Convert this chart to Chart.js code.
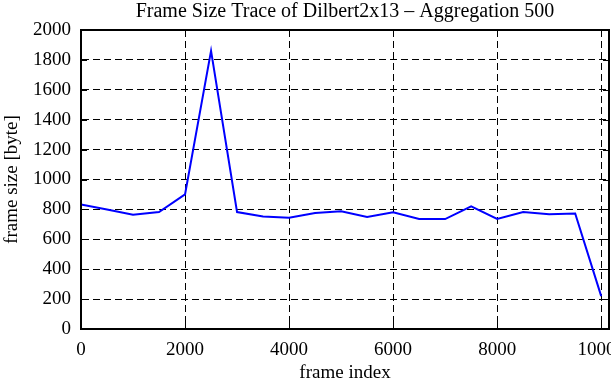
<!DOCTYPE html>
<html>
<head>
<meta charset="utf-8">
<script src="https://cdn.jsdelivr.net/npm/chart.js@4/dist/chart.umd.min.js"></script>
<style>
  html, body { margin: 0; padding: 0; background: #fff; overflow: hidden; }
  #wrap { position: absolute; left: 0; top: 0; width: 611px; height: 380px; overflow: hidden; }
</style>
</head>
<body>
<div id="wrap"><canvas id="chart" width="640" height="384"></canvas></div>
<script>
// frame index (aggregated every 500 frames)
const frameIndex = [0, 500, 1000, 1500, 2000, 2500, 3000, 3500, 4000, 4500, 5000,
                    5500, 6000, 6500, 7000, 7500, 8000, 8500, 9000, 9500, 10000];
// frame size in bytes
const frameSize = [833, 800, 765, 782, 900, 1860, 782, 753, 744, 776, 787,
                   749, 780, 736, 735, 820, 736, 782, 767, 773, 220];
const xTicks = [0, 2000, 4000, 6000, 8000, 10000];
const yTicks = [0, 200, 400, 600, 800, 1000, 1200, 1400, 1600, 1800, 2000];

const FONT = "'Liberation Serif', 'DejaVu Serif', serif";

// small solid tick marks on the inside of all four borders (gnuplot style)
const mirrorTicks = {
    id: 'mirrorTicks',
    afterDraw(chart) {
        const { ctx, chartArea: a, scales } = chart;
        const len = 6;
        ctx.save();
        ctx.strokeStyle = '#000';
        ctx.lineWidth = 1;
        ctx.beginPath();
        xTicks.forEach(v => {
            const px = Math.round(scales.x.getPixelForValue(v)) + 0.5;
            ctx.moveTo(px, a.bottom); ctx.lineTo(px, a.bottom - len);
            ctx.moveTo(px, a.top); ctx.lineTo(px, a.top + len);
        });
        yTicks.forEach(v => {
            const py = Math.round(scales.y.getPixelForValue(v)) + 0.5;
            ctx.moveTo(a.left, py); ctx.lineTo(a.left + len, py);
            ctx.moveTo(a.right, py); ctx.lineTo(a.right - len, py);
        });
        ctx.stroke();
        // frame
        ctx.lineWidth = 2;
        ctx.strokeRect(a.left, a.top, a.right - a.left, a.bottom - a.top);
        ctx.restore();
    }
};

new Chart(document.getElementById('chart'), {
    type: 'line',
    data: {
        datasets: [{
            data: frameIndex.map((x, i) => ({ x: x, y: frameSize[i] })),
            borderColor: '#0000ff',
            borderWidth: 2,
            pointRadius: 0,
            tension: 0,
            fill: false
        }]
    },
    options: {
        responsive: false,
        animation: false,
        layout: { padding: { left: 0, right: 31, top: 0, bottom: 0 } },
        plugins: {
            legend: { display: false },
            tooltip: { enabled: false },
            title: {
                display: true,
                fullSize: false, // centre over the plot area
                text: 'Frame Size Trace of Dilbert2x13 \u2013 Aggregation 500',
                color: '#000',
                font: { family: FONT, size: 20, weight: 'normal' },
                padding: { top: 0, bottom: 6 }
            }
        },
        scales: {
            x: {
                type: 'linear',
                min: 0,
                max: 10150,
                afterBuildTicks: s => { s.ticks = xTicks.map(v => ({ value: v })); },
                afterFit: s => { s.height = 55; },
                ticks: {
                    color: '#000',
                    font: { family: FONT, size: 19 },
                    maxRotation: 0,
                    padding: 10,
                    callback: v => String(v)
                },
                grid: {
                    color: '#000',
                    lineWidth: 1,
                    drawTicks: false
                },
                border: { display: true, color: '#000', width: 2, dash: [7, 4] },
                title: {
                    display: true,
                    text: 'frame index',
                    color: '#000',
                    font: { family: FONT, size: 19 },
                    padding: { top: 0, bottom: 0 }
                }
            },
            y: {
                min: 0,
                max: 2000,
                afterBuildTicks: s => { s.ticks = yTicks.map(v => ({ value: v })); },
                afterFit: s => { s.width = 81; },
                ticks: {
                    color: '#000',
                    font: { family: FONT, size: 19 },
                    padding: 10,
                    callback: v => String(v)
                },
                grid: {
                    color: '#000',
                    lineWidth: 1,
                    drawTicks: false
                },
                border: { display: true, color: '#000', width: 2, dash: [7, 4] },
                title: {
                    display: true,
                    text: 'frame size [byte]',
                    color: '#000',
                    font: { family: FONT, size: 19 },
                    padding: { top: 1, bottom: 0 }
                }
            }
        }
    },
    plugins: [mirrorTicks]
});
</script>
</body>
</html>
